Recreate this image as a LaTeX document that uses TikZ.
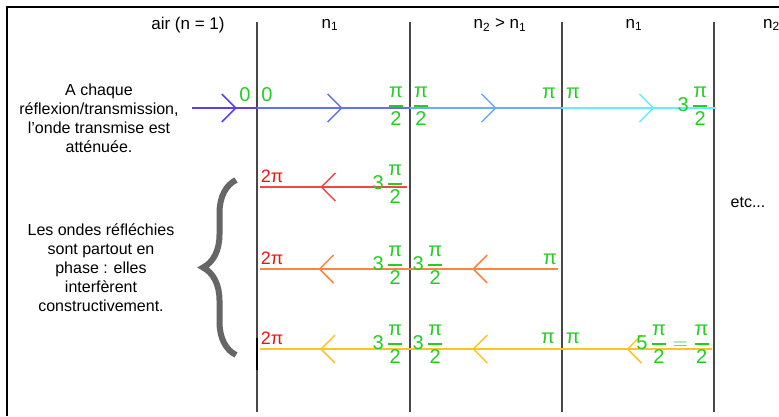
\documentclass[tikz,border=0pt]{standalone}
\usepackage{amsmath}
\usepackage{fontspec}
\setmainfont{Liberation Sans}
\usetikzlibrary{arrows.meta, decorations.markings, decorations.pathreplacing}
\definecolor{wavPurple}{RGB}{92,62,240}
\definecolor{wavIndigo}{RGB}{98,112,242}
\definecolor{wavSky}{RGB}{104,172,250}
\definecolor{wavCyan}{RGB}{102,238,250}
\definecolor{wavRed}{RGB}{240,70,70}
\definecolor{wavOrange}{RGB}{255,132,62}
\definecolor{wavYellow}{RGB}{255,196,36}
\definecolor{phGreen}{RGB}{34,206,34}
\definecolor{phRed}{RGB}{238,20,20}
\definecolor{ifEdge}{RGB}{72,72,72}
\newcommand{\hpi}{\genfrac{}{}{1.3pt}{0}{\text{π}}{\text{2}}}

\begin{document}
\begin{tikzpicture}[
    x=1pt, y=-1pt,
    iface/.style={draw=ifEdge, line width=1.4pt},
    wave/.style={draw=#1, line width=1.5pt},
    tipat/.style={postaction={decorate, decoration={markings,
        mark=at position #1 with {\arrow{Straight Barb[length=14pt, width=28pt]}}}}},
    hdr/.style={font=\fontsize{17}{20}\selectfont, inner sep=0pt},
    note/.style={font=\fontsize{16}{19}\selectfont, align=center, inner sep=0pt},
    ph/.style={text=phGreen, font=\fontsize{20}{24}\selectfont, inner sep=0pt},
    phr/.style={text=phRed, font=\fontsize{18}{22}\selectfont, inner sep=0pt}
]
\useasboundingbox (0,0) rectangle (779,416);

% --- Frame (top and left edges) ---
\draw[line width=1.8pt] (779,7) -- (7,7) -- (7,416);

% --- Interfaces ---
\foreach \i/\x in {0/257, 1/410, 2/562, 3/714} {
  \coordinate (top\i) at (\x,22);
  \coordinate (bot\i) at (\x,412);
  \draw[iface] (top\i) -- (bot\i);
}
\draw[line width=2.2pt] (257,338) -- (257,370);

% --- Media ---
\node[hdr] (air) at (188,25) {air (n = 1)};
\node[hdr] (med1) at (330,25) {n\textsubscript{1}};
\node[hdr] (med2) at (500,25) {n\textsubscript{2} > n\textsubscript{1}};
\node[hdr] (med3) at (634,25) {n\textsubscript{1}};
\node[hdr, anchor=west] (med4) at (763,25) {n\textsubscript{2}};

% --- Notes ---
\node[note] (att) at (99,118)
    {A chaque\\réflexion/transmission,\\l'onde transmise est\\atténuée.};
\node[note] (cons) at (101,268)
    {Les ondes réfléchies\\sont partout en\\phase : elles\\interfèrent\\constructivement.};
\node[note] (etc) at (748,202) {etc...};

\coordinate (brTop) at (236,180);
\coordinate (brBot) at (236,355);
\draw[decorate, decoration={brace, amplitude=33pt}, line width=6pt, draw=black!60]
    (brBot) -- (brTop);

% --- Transmitted wave ---
\coordinate (t0) at (192,108);
\coordinate (t1) at (257,108);
\coordinate (t2) at (410,108);
\coordinate (t3) at (562,108);
\coordinate (t4) at (716,108);
\draw[wave=wavPurple, tipat=0.69] (t0) -- (t1);
\draw[wave=wavIndigo, tipat=0.56] (t1) -- (t2);
\draw[wave=wavSky, tipat=0.57] (t2) -- (t3);
\draw[wave=wavCyan, tipat=0.60] (t3) -- (t4);

\node[ph] (z0L) at (245,95) {0};
\node[ph] (z0R) at (267,95) {0};
\node[ph] (h1L) at (396,106) {$\hpi$};
\node[ph] (h1R) at (421,106) {$\hpi$};
\node[ph] (p1L) at (549,93) {π};
\node[ph] (p1R) at (573,93) {π};
\node[ph] (t1L) at (693,106) {$\text{3}\,\hpi$};

% --- Reflected waves ---
\coordinate (ra) at (407,187);
\coordinate (rb) at (260,187);
\draw[wave=wavRed, tipat=0.59] (ra) -- (rb);

\coordinate (oa) at (558,269);
\coordinate (ob) at (410,269);
\coordinate (oc) at (260,269);
\draw[wave=wavOrange, tipat=0.58] (oa) -- (ob);
\draw[wave=wavOrange, tipat=0.61] (ob) -- (oc);

\coordinate (ya) at (712,349);
\coordinate (yb) at (562,349);
\coordinate (yc) at (410,349);
\coordinate (yd) at (260,349);
\draw[wave=wavYellow, tipat=0.57] (ya) -- (yb);
\draw[wave=wavYellow, tipat=0.59] (yb) -- (yc);
\draw[wave=wavYellow, tipat=0.60] (yc) -- (yd);

\node[phr] (r2) at (272,176) {2π};
\node[ph] (t2L) at (388,184) {$\text{3}\,\hpi$};

\node[phr] (r3) at (272,258) {2π};
\node[ph] (t3L) at (388,265) {$\text{3}\,\hpi$};
\node[ph] (t3R) at (428,265) {$\text{3}\,\hpi$};
\node[ph] (p3L) at (550,259) {π};

\node[phr] (r4) at (272,338) {2π};
\node[ph] (t4L) at (388,344) {$\text{3}\,\hpi$};
\node[ph] (t4R) at (428,344) {$\text{3}\,\hpi$};
\node[ph] (p4L) at (548,338) {π};
\node[ph] (p4R) at (573,338) {π};
\node[ph] (f4) at (673,344) {$\text{5}\,\hpi=\hpi$};

\end{tikzpicture}
\end{document}
